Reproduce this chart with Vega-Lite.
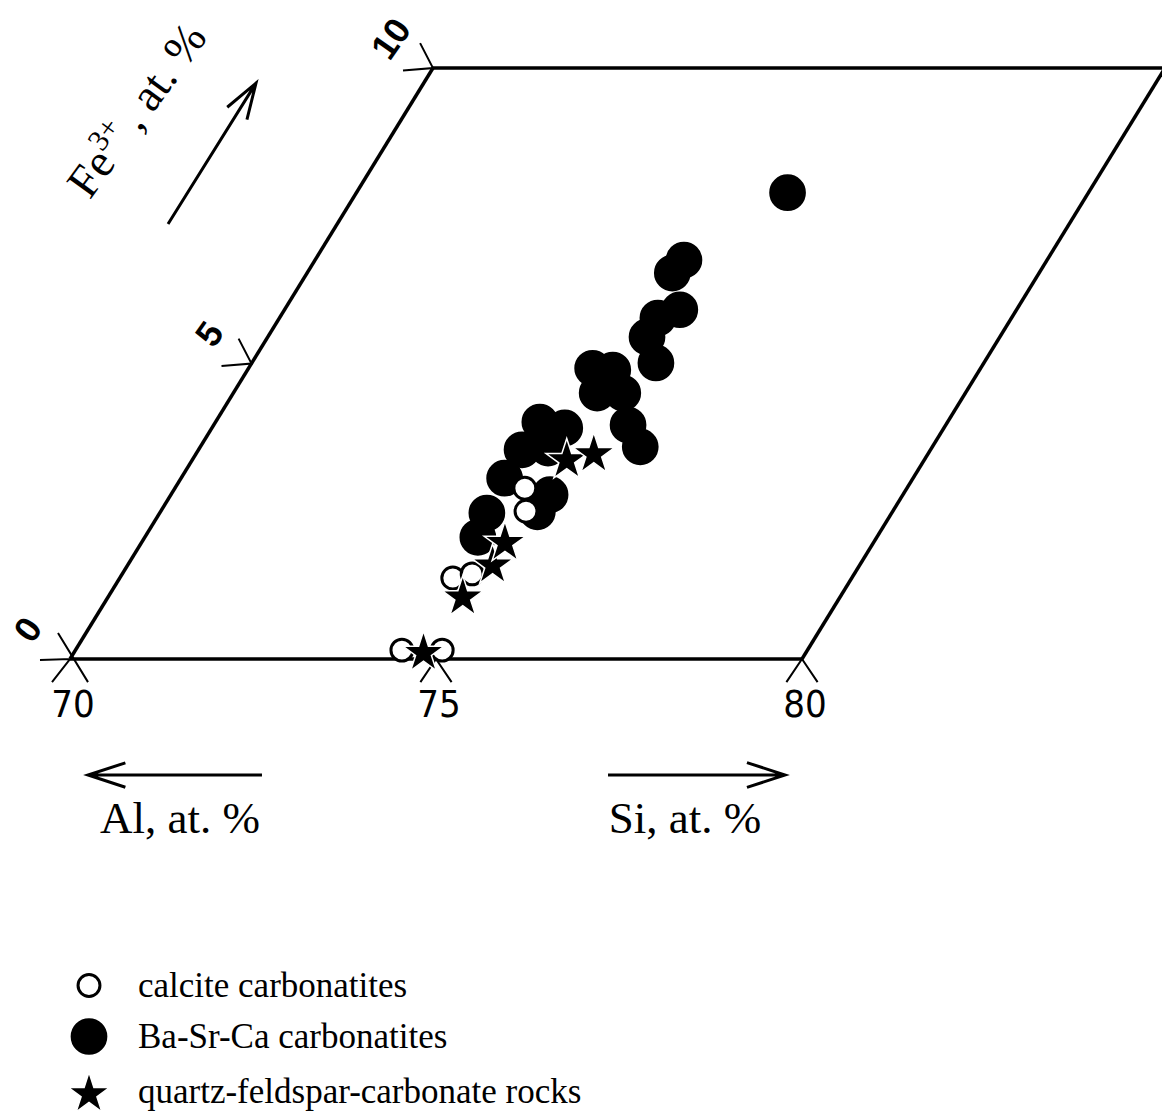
{
  "$schema": "https://vega.github.io/schema/vega-lite/v6.json",
  "width": 1162,
  "height": 1119,
  "autosize": "none",
  "padding": 0,
  "background": "white",
  "config": {"view": {"stroke": null}},
  "datasets": {
    "points": [
      {"type": "Ba-Sr-Ca carbonatites", "si": 75.89, "fe": 7.89},
      {"type": "Ba-Sr-Ca carbonatites", "si": 75.04, "fe": 6.75},
      {"type": "Ba-Sr-Ca carbonatites", "si": 74.99, "fe": 6.53},
      {"type": "Ba-Sr-Ca carbonatites", "si": 75.40, "fe": 5.91},
      {"type": "Ba-Sr-Ca carbonatites", "si": 75.17, "fe": 5.77},
      {"type": "Ba-Sr-Ca carbonatites", "si": 75.18, "fe": 5.45},
      {"type": "Ba-Sr-Ca carbonatites", "si": 75.52, "fe": 5.01},
      {"type": "Ba-Sr-Ca carbonatites", "si": 74.70, "fe": 4.92},
      {"type": "Ba-Sr-Ca carbonatites", "si": 74.99, "fe": 4.89},
      {"type": "Ba-Sr-Ca carbonatites", "si": 74.97, "fe": 4.50},
      {"type": "Ba-Sr-Ca carbonatites", "si": 75.32, "fe": 4.50},
      {"type": "Ba-Sr-Ca carbonatites", "si": 75.66, "fe": 3.96},
      {"type": "Ba-Sr-Ca carbonatites", "si": 76.01, "fe": 3.59},
      {"type": "Ba-Sr-Ca carbonatites", "si": 74.43, "fe": 4.01},
      {"type": "Ba-Sr-Ca carbonatites", "si": 74.82, "fe": 3.91},
      {"type": "Ba-Sr-Ca carbonatites", "si": 74.42, "fe": 3.54},
      {"type": "Ba-Sr-Ca carbonatites", "si": 74.76, "fe": 3.57},
      {"type": "Ba-Sr-Ca carbonatites", "si": 74.42, "fe": 3.06},
      {"type": "Ba-Sr-Ca carbonatites", "si": 75.18, "fe": 2.78},
      {"type": "Ba-Sr-Ca carbonatites", "si": 75.15, "fe": 2.49},
      {"type": "Ba-Sr-Ca carbonatites", "si": 74.47, "fe": 2.47},
      {"type": "Ba-Sr-Ca carbonatites", "si": 74.55, "fe": 2.06},
      {"type": "calcite carbonatites", "si": 74.78, "fe": 2.89},
      {"type": "calcite carbonatites", "si": 74.99, "fe": 2.50},
      {"type": "calcite carbonatites", "si": 74.55, "fe": 1.37},
      {"type": "calcite carbonatites", "si": 74.78, "fe": 1.44},
      {"type": "calcite carbonatites", "si": 74.46, "fe": 0.15},
      {"type": "calcite carbonatites", "si": 75.01, "fe": 0.15},
      {"type": "quartz-feldspar-carbonate rocks", "si": 74.76, "fe": 0.14},
      {"type": "quartz-feldspar-carbonate rocks", "si": 74.83, "fe": 1.08},
      {"type": "quartz-feldspar-carbonate rocks", "si": 74.97, "fe": 1.62},
      {"type": "quartz-feldspar-carbonate rocks", "si": 74.95, "fe": 2.00},
      {"type": "quartz-feldspar-carbonate rocks", "si": 75.10, "fe": 3.40},
      {"type": "quartz-feldspar-carbonate rocks", "si": 75.42, "fe": 3.50}
    ],
    "frame": [
      {"edge": "bottom", "si": 70, "fe": 0},
      {"edge": "bottom", "si": 80, "fe": 0},
      {"edge": "left", "si": 70, "fe": 0},
      {"edge": "left", "si": 70, "fe": 10},
      {"edge": "top", "si": 70, "fe": 10},
      {"edge": "top", "si": 85, "fe": 10},
      {"edge": "right", "si": 80, "fe": 0},
      {"edge": "right", "si": 80, "fe": 10}
    ]
  },
  "layer": [
    {
      "data": {"name": "frame"},
      "transform": [{"calculate": "datum.si + 0.4959 * datum.fe", "as": "xs"}],
      "mark": {"type": "line", "stroke": "black", "strokeWidth": 3.5, "strokeCap": "butt"},
      "encoding": {
        "x": {"field": "xs", "type": "quantitative", "scale": {"domain": [69.0437, 84.918], "nice": false, "zero": false}, "axis": null},
        "y": {"field": "fe", "type": "quantitative", "scale": {"domain": [-7.783, 11.151], "nice": false, "zero": false}, "axis": null},
        "detail": {"field": "edge", "type": "nominal"}
      }
    },
    {
      "data": {"values": [{"si": 70, "fe": 10}, {"si": 70, "fe": 5}]},
      "transform": [{"calculate": "datum.si + 0.4959 * datum.fe", "as": "xs"}],
      "mark": {"type": "point", "shape": "M -0.43 -0.83 L 0 0 L -1 0.08", "size": 3600, "filled": false, "stroke": "black", "strokeWidth": 2, "opacity": 1},
      "encoding": {
        "x": {"field": "xs", "type": "quantitative"},
        "y": {"field": "fe", "type": "quantitative"}
      }
    },
    {
      "data": {"values": [{"si": 75, "fe": 0}, {"si": 80, "fe": 0}]},
      "mark": {"type": "point", "shape": "M -0.52 0.77 L 0 0 L 0.52 0.77", "size": 3600, "filled": false, "stroke": "black", "strokeWidth": 2, "opacity": 1},
      "encoding": {
        "x": {"field": "si", "type": "quantitative"},
        "y": {"field": "fe", "type": "quantitative"}
      }
    },
    {
      "data": {"values": [{"si": 70, "fe": 0}]},
      "mark": {"type": "point", "shape": "M -0.4 -0.87 L 0.6 0.77 M -0.6 0.77 L 0 0 L -1 0.03", "size": 3600, "filled": false, "stroke": "black", "strokeWidth": 2, "opacity": 1},
      "encoding": {
        "x": {"field": "si", "type": "quantitative"},
        "y": {"field": "fe", "type": "quantitative"}
      }
    },
    {
      "data": {"values": [{"t": "70", "si": 70, "fe": 0}, {"t": "75", "si": 75, "fe": 0}, {"t": "80", "si": 80, "fe": 0}]},
      "mark": {"type": "text", "font": "DejaVu Sans Condensed, DejaVu Sans", "fontSize": 38, "align": "center", "baseline": "alphabetic", "dx": 3, "dy": 58, "color": "black"},
      "encoding": {
        "x": {"field": "si", "type": "quantitative"},
        "y": {"field": "fe", "type": "quantitative"},
        "text": {"field": "t"}
      }
    },
    {
      "data": {"values": [{"t": "0", "si": 70, "fe": 0}, {"t": "5", "si": 70, "fe": 5}, {"t": "10", "si": 70, "fe": 10}]},
      "transform": [{"calculate": "datum.si + 0.4959 * datum.fe", "as": "xs"}],
      "mark": {"type": "text", "font": "Liberation Sans", "fontWeight": "bold", "fontSize": 36, "angle": -55, "align": "center", "baseline": "middle", "dy": -50, "color": "black"},
      "encoding": {
        "x": {"field": "xs", "type": "quantitative"},
        "y": {"field": "fe", "type": "quantitative"},
        "text": {"field": "t"}
      }
    },
    {
      "data": {"values": [{"t": "Al, at. %", "si": 71.503, "fe": -2.944}, {"t": "Si, at. %", "si": 78.402, "fe": -2.944}]},
      "mark": {"type": "text", "font": "Liberation Serif", "fontSize": 45, "align": "center", "baseline": "alphabetic", "color": "black"},
      "encoding": {
        "x": {"field": "si", "type": "quantitative"},
        "y": {"field": "fe", "type": "quantitative"},
        "text": {"field": "t"}
      }
    },
    {
      "data": {"values": [{"t": "Fe", "si": 70.27, "fe": 7.76}]},
      "mark": {"type": "text", "font": "Liberation Serif", "fontSize": 46, "angle": -54, "align": "left", "baseline": "alphabetic", "color": "black"},
      "encoding": {
        "x": {"field": "si", "type": "quantitative"},
        "y": {"field": "fe", "type": "quantitative"},
        "text": {"field": "t"}
      }
    },
    {
      "data": {"values": [{"t": "3+", "si": 70.27, "fe": 7.76}]},
      "mark": {"type": "text", "font": "Liberation Serif", "fontSize": 30, "angle": -54, "align": "left", "baseline": "alphabetic", "dx": 46, "dy": -18, "color": "black"},
      "encoding": {
        "x": {"field": "si", "type": "quantitative"},
        "y": {"field": "fe", "type": "quantitative"},
        "text": {"field": "t"}
      }
    },
    {
      "data": {"values": [{"t": ", at. %", "si": 70.27, "fe": 7.76}]},
      "mark": {"type": "text", "font": "Liberation Serif", "fontSize": 46, "angle": -54, "align": "left", "baseline": "alphabetic", "dx": 84, "color": "black"},
      "encoding": {
        "x": {"field": "si", "type": "quantitative"},
        "y": {"field": "fe", "type": "quantitative"},
        "text": {"field": "t"}
      }
    },
    {
      "data": {"values": [{"si": 78.559, "fe": -1.963}]},
      "mark": {"type": "point", "shape": "M -1 0 L 1 0 M 0.57 -0.14 L 1 0 L 0.57 0.14", "size": 31329, "filled": false, "stroke": "black", "strokeWidth": 3, "opacity": 1},
      "encoding": {
        "x": {"field": "si", "type": "quantitative"},
        "y": {"field": "fe", "type": "quantitative"}
      }
    },
    {
      "data": {"values": [{"si": 71.434, "fe": -1.963}]},
      "mark": {"type": "point", "shape": "M -1 0 L 1 0 M 0.57 -0.14 L 1 0 L 0.57 0.14", "size": 30276, "angle": 180, "filled": false, "stroke": "black", "strokeWidth": 3, "opacity": 1},
      "encoding": {
        "x": {"field": "si", "type": "quantitative"},
        "y": {"field": "fe", "type": "quantitative"}
      }
    },
    {
      "data": {"values": [{"si": 71.940, "fe": 8.553}]},
      "mark": {"type": "point", "shape": "M -1 0 L 1 0 M 0.57 -0.14 L 1 0 L 0.57 0.14", "size": 27556, "angle": -58, "filled": false, "stroke": "black", "strokeWidth": 3, "opacity": 1},
      "encoding": {
        "x": {"field": "si", "type": "quantitative"},
        "y": {"field": "fe", "type": "quantitative"}
      }
    },
    {
      "data": {"name": "points"},
      "transform": [{"calculate": "datum.si + 0.4959 * datum.fe", "as": "xs"}],
      "mark": {"type": "point", "filled": true, "opacity": 1},
      "encoding": {
        "x": {"field": "xs", "type": "quantitative"},
        "y": {"field": "fe", "type": "quantitative"},
        "shape": {
          "field": "type", "type": "nominal",
          "scale": {"domain": ["calcite carbonatites", "Ba-Sr-Ca carbonatites", "quartz-feldspar-carbonate rocks"], "range": ["circle", "circle", "M 0 -0.9 L 0.2245 -0.209 L 0.951 -0.209 L 0.3633 0.218 L 0.588 0.909 L 0 0.482 L -0.588 0.909 L -0.3633 0.218 L -0.951 -0.209 L -0.2245 -0.209 Z"]},
          "legend": {"title": null, "orient": "none", "legendX": 66, "legendY": 968, "labelFont": "Liberation Serif", "labelFontSize": 35, "labelColor": "black", "labelOffset": 26, "labelLimit": 0, "rowPadding": 9, "symbolOpacity": 1, "padding": 0}
        },
        "fill": {
          "field": "type", "type": "nominal",
          "scale": {"domain": ["calcite carbonatites", "Ba-Sr-Ca carbonatites", "quartz-feldspar-carbonate rocks"], "range": ["white", "black", "black"]}
        },
        "stroke": {
          "field": "type", "type": "nominal",
          "scale": {"domain": ["calcite carbonatites", "Ba-Sr-Ca carbonatites", "quartz-feldspar-carbonate rocks"], "range": ["black", "black", "white"]}
        },
        "strokeWidth": {
          "field": "type", "type": "nominal",
          "scale": {"type": "ordinal", "domain": ["calcite carbonatites", "Ba-Sr-Ca carbonatites", "quartz-feldspar-carbonate rocks"], "range": [3, 3, 1.5]}
        },
        "size": {
          "field": "type", "type": "nominal",
          "scale": {"type": "ordinal", "domain": ["calcite carbonatites", "Ba-Sr-Ca carbonatites", "quartz-feldspar-carbonate rocks"], "range": [480, 1136, 1900]}
        }
      }
    }
  ]
}
